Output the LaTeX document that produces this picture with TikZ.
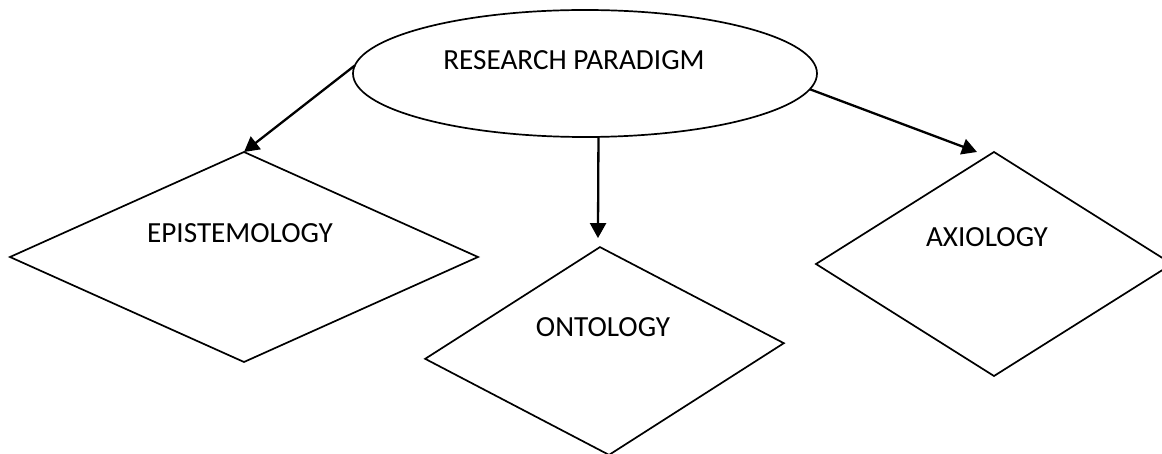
\documentclass[tikz,border=0pt]{standalone}
\usepackage{fontspec}
\setmainfont{Carlito}
\usetikzlibrary{shapes.geometric,arrows.meta}

\begin{document}
\begin{tikzpicture}[
  x=1bp, y=-1bp,
  shapeline/.style={draw=black, line width=1.7bp, inner sep=0pt, outer sep=0pt},
  rhomb/.style={shapeline, diamond},
  label/.style={font=\fontsize{29.3}{32}\selectfont, anchor=base, inner sep=0pt},
  link/.style={draw=black, line width=2.3bp, -{Triangle[length=15bp,width=16bp]}}
]
  \useasboundingbox (0,0) rectangle (1162,454);
  \clip (0,0) rectangle (1162,454);

  % top concept
  \node[shapeline, ellipse, minimum width=464bp, minimum height=127bp] (para) at (585,73.5) {};
  \node[label] (paratext) at (574,70) {RESEARCH PARADIGM};

  % three branches
  \node[rhomb, minimum width=468bp, minimum height=210bp] (epi) at (244,257) {};
  \node[label] (epitext) at (240,243) {EPISTEMOLOGY};

  \node[rhomb, minimum width=359bp, minimum height=208bp, rotate=2.5] (onto) at (604.5,351) {};
  \node[label] (ontotext) at (603,337) {ONTOLOGY};

  \node[rhomb, minimum width=356bp, minimum height=224bp] (axi) at (994,264) {};
  \node[label] (axitext) at (987,247) {AXIOLOGY};

  % connectors
  \draw[link] (para.178.4) -- (epi.north);
  \draw[link] (para.-78.4) -- ([xshift=-2bp,yshift=9bp]onto.north);
  \draw[link] (para.-4.3) -- ([xshift=-17bp]axi.north);
\end{tikzpicture}
\end{document}
